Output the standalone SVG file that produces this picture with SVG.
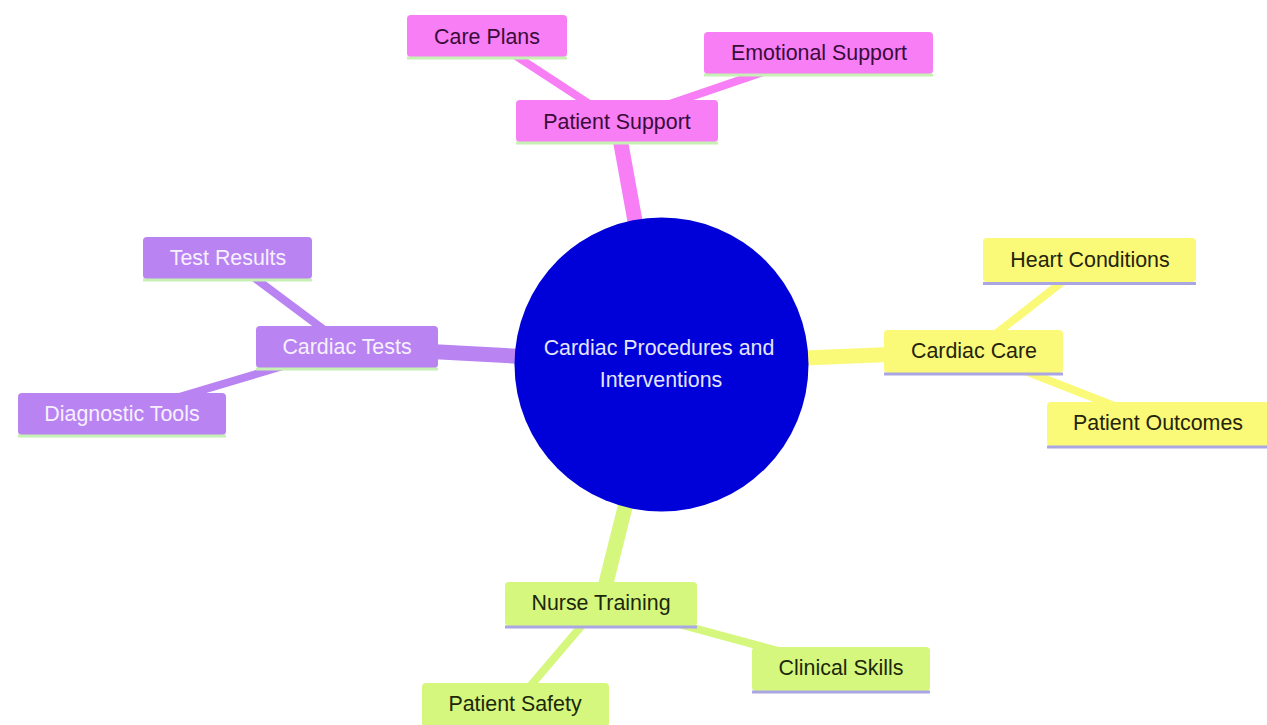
<svg xmlns="http://www.w3.org/2000/svg" width="1267" height="725" viewBox="0 0 1267 725">
<style>
text{font-family:"Liberation Sans",Arial,sans-serif;font-size:21.4px;text-anchor:middle;dominant-baseline:central}
.e0{stroke-width:15;fill:none;stroke-linecap:butt}
.e1{stroke-width:8;fill:none;stroke-linecap:butt}
.pk{stroke:#f77ef4}.pu{stroke:#b984f2}.ye{stroke:#fbf978}.gr{stroke:#d6f77e}
.npk rect.b{fill:#f77ef4}.npk text{fill:#3a0c3a}.npk line{stroke:#c6f0b4}
.npu rect.b{fill:#b984f2}.npu text{fill:#f6f0ff}.npu line{stroke:#c6f0b4}
.nye rect.b{fill:#fbf978}.nye text{fill:#24240c}.nye line{stroke:#aaa6e4}
.ngr rect.b{fill:#d6f77e}.ngr text{fill:#1c280a}.ngr line{stroke:#aaa6e4}
line.u{stroke-width:3}
</style>
<rect width="1267" height="725" fill="#ffffff"/>
<g id="connectors">
<line class="e0 pk" x1="661" y1="364" x2="617" y2="122"/>
<line class="e1 pk" x1="617" y1="122" x2="487" y2="37"/>
<line class="e1 pk" x1="617" y1="122" x2="819" y2="53"/>
<line class="e0 pu" x1="661" y1="364" x2="347" y2="347"/>
<line class="e1 pu" x1="347" y1="347" x2="228" y2="258"/>
<line class="e1 pu" x1="347" y1="347" x2="122" y2="414"/>
<line class="e0 ye" x1="661" y1="364" x2="974" y2="351"/>
<line class="e1 ye" x1="974" y1="351" x2="1090" y2="260"/>
<line class="e1 ye" x1="974" y1="351" x2="1158" y2="423"/>
<line class="e0 gr" x1="661" y1="364" x2="601" y2="603"/>
<line class="e1 gr" x1="601" y1="603" x2="841" y2="668"/>
<line class="e1 gr" x1="601" y1="603" x2="515" y2="704"/>
</g>
<g id="root">
<circle cx="661.5" cy="364.5" r="147" fill="#0000d8"/>
<text x="659" y="348" fill="#e4e4ff">Cardiac Procedures and</text>
<text x="661" y="380" fill="#e4e4ff">Interventions</text>
</g>
<g id="patient-support" class="npk">
<rect class="b" x="516" y="100" width="202" height="42" rx="4"/>
<line class="u" x1="516" y1="143" x2="718" y2="143"/>
<text x="617" y="122">Patient Support</text>
</g>
<g id="care-plans" class="npk">
<rect class="b" x="407" y="15" width="160" height="42" rx="4"/>
<line class="u" x1="407" y1="58" x2="567" y2="58"/>
<text x="487" y="37">Care Plans</text>
</g>
<g id="emotional-support" class="npk">
<rect class="b" x="704" y="32" width="229" height="42" rx="4"/>
<line class="u" x1="704" y1="75" x2="933" y2="75"/>
<text x="819" y="53">Emotional Support</text>
</g>
<g id="cardiac-tests" class="npu">
<rect class="b" x="256" y="326" width="182" height="42" rx="4"/>
<line class="u" x1="256" y1="369" x2="438" y2="369"/>
<text x="347" y="347">Cardiac Tests</text>
</g>
<g id="test-results" class="npu">
<rect class="b" x="143" y="237" width="169" height="42" rx="4"/>
<line class="u" x1="143" y1="280" x2="312" y2="280"/>
<text x="228" y="258">Test Results</text>
</g>
<g id="diagnostic-tools" class="npu">
<rect class="b" x="18" y="393" width="208" height="42" rx="4"/>
<line class="u" x1="18" y1="436" x2="226" y2="436"/>
<text x="122" y="414">Diagnostic Tools</text>
</g>
<g id="cardiac-care" class="nye">
<rect class="b" x="884" y="330" width="179" height="43" rx="4"/>
<line class="u" x1="884" y1="374" x2="1063" y2="374"/>
<text x="974" y="351">Cardiac Care</text>
</g>
<g id="heart-conditions" class="nye">
<rect class="b" x="983" y="238" width="213" height="44" rx="4"/>
<line class="u" x1="983" y1="283.5" x2="1196" y2="283.5"/>
<text x="1090" y="260">Heart Conditions</text>
</g>
<g id="patient-outcomes" class="nye">
<rect class="b" x="1047" y="402" width="222" height="44" rx="4"/>
<line class="u" x1="1047" y1="447" x2="1269" y2="447"/>
<text x="1158" y="423">Patient Outcomes</text>
</g>
<g id="nurse-training" class="ngr">
<rect class="b" x="505" y="582" width="192" height="44" rx="4"/>
<line class="u" x1="505" y1="627" x2="697" y2="627"/>
<text x="601" y="603">Nurse Training</text>
</g>
<g id="clinical-skills" class="ngr">
<rect class="b" x="752" y="647" width="178" height="44" rx="4"/>
<line class="u" x1="752" y1="692" x2="930" y2="692"/>
<text x="841" y="668">Clinical Skills</text>
</g>
<g id="patient-safety" class="ngr">
<rect class="b" x="422" y="683" width="187" height="44" rx="4"/>
<line class="u" x1="422" y1="728" x2="609" y2="728"/>
<text x="515" y="704">Patient Safety</text>
</g>
</svg>
